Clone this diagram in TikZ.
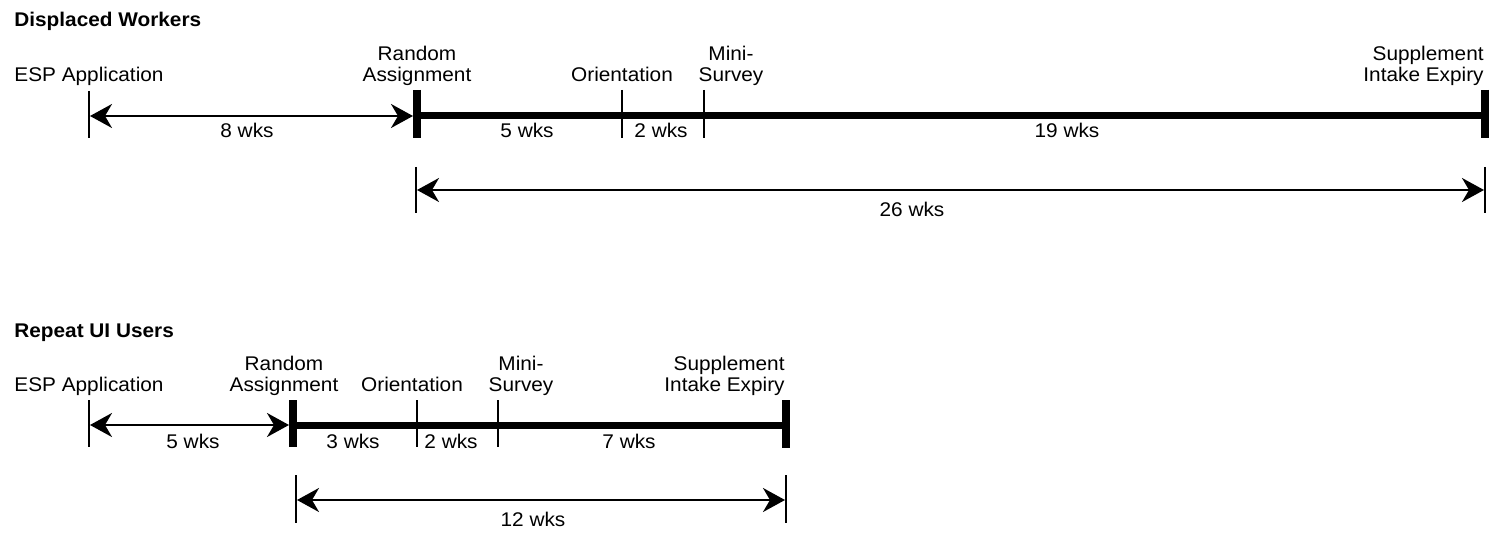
\documentclass[tikz,border=0pt]{standalone}
\usepackage{fontspec}
\setmainfont[FakeStretch=1.05]{Liberation Sans}
\usetikzlibrary{arrows.meta}
\newcommand{\twoline}[3]{\begin{tabular}[b]{@{}#1@{}}#2\\#3\end{tabular}}
\begin{document}
\begin{tikzpicture}[x=0.5pt,y=-0.5pt,
  lbl/.style={inner sep=0pt, anchor=base, font=\fontsize{9.9}{10.5}\selectfont},
  ttl/.style={inner sep=0pt, anchor=base west, font=\bfseries\fontsize{9.9}{10.5}\selectfont},
  thintick/.style={line width=1pt},
  thicktick/.style={line width=4pt},
  bar/.style={line width=3.5pt},
  tip/.tip={Stealth[length=11pt,width=12pt,inset=3.5pt]},
  dim/.style={line width=1.1pt, tip-tip, shorten <=0.5pt, shorten >=0.5pt}]
\useasboundingbox (0,0) rectangle (1495,535);

% ---------------- Displaced Workers ----------------
\node[ttl] (t1) at (14,27) {Displaced Workers};

\coordinate (e1) at (89,116);
\coordinate (r1) at (417,116);
\coordinate (o1) at (622,116);
\coordinate (m1) at (704,116);
\coordinate (s1) at (1485,116);
\coordinate (a1) at (416,190);
\coordinate (b1) at (1485,190);

\draw[thintick] (89,91) -- (89,138);
\draw[thintick] (622,90) -- (622,138);
\draw[thintick] (704,90) -- (704,138);
\draw[bar] (r1) -- (s1);
\draw[thicktick] (417,90) -- (417,138);
\draw[thicktick] (1485,90) -- (1485,138);
\draw[dim, shorten >=2pt] (e1) -- (r1);

\draw[thintick] (416,167) -- (416,213);
\draw[thintick] (1485,167) -- (1485,213);
\draw[dim] (a1) -- (b1);

\node[lbl] (l1a) at (89,82) {ESP Application};
\node[lbl] (l1b) at (417,82) {\twoline{c}{Random}{Assignment}};
\node[lbl] (l1c) at (622,82) {Orientation};
\node[lbl] (l1d) at (731,82) {\twoline{c}{Mini-}{Survey}};
\node[lbl, anchor=base east] (l1e) at (1484,82) {\twoline{r}{Supplement}{Intake Expiry}};

\node[lbl] (w1a) at (247,138) {8 wks};
\node[lbl] (w1b) at (527,138) {5 wks};
\node[lbl] (w1c) at (661,138) {2 wks};
\node[lbl] (w1d) at (1067,138) {19 wks};
\node[lbl] (w1e) at (912,217) {26 wks};

% ---------------- Repeat UI Users ----------------
\node[ttl] (t2) at (14,337) {Repeat UI Users};

\coordinate (e2) at (89,425);
\coordinate (r2) at (293,425);
\coordinate (o2) at (417,425);
\coordinate (m2) at (498,425);
\coordinate (s2) at (786,425);
\coordinate (a2) at (296,500);
\coordinate (b2) at (786,500);

\draw[thintick] (89,400) -- (89,447);
\draw[thintick] (417,400) -- (417,447);
\draw[thintick] (498,400) -- (498,447);
\draw[bar] (r2) -- (s2);
\draw[thicktick] (293,400) -- (293,447);
\draw[thicktick] (786,400) -- (786,448);
\draw[dim, shorten >=2pt] (e2) -- (r2);

\draw[thintick] (296,475) -- (296,523);
\draw[thintick] (786,475) -- (786,523);
\draw[dim] (a2) -- (b2);

\node[lbl] (l2a) at (89,391) {ESP Application};
\node[lbl] (l2b) at (284,391) {\twoline{c}{Random}{Assignment}};
\node[lbl] (l2c) at (412,391) {Orientation};
\node[lbl] (l2d) at (521,391) {\twoline{c}{Mini-}{Survey}};
\node[lbl, anchor=base east] (l2e) at (785,391) {\twoline{r}{Supplement}{Intake Expiry}};

\node[lbl] (w2a) at (193,448) {5 wks};
\node[lbl] (w2b) at (353,448) {3 wks};
\node[lbl] (w2c) at (451,448) {2 wks};
\node[lbl] (w2d) at (629,448) {7 wks};
\node[lbl] (w2e) at (533,526) {12 wks};
\end{tikzpicture}
\end{document}
